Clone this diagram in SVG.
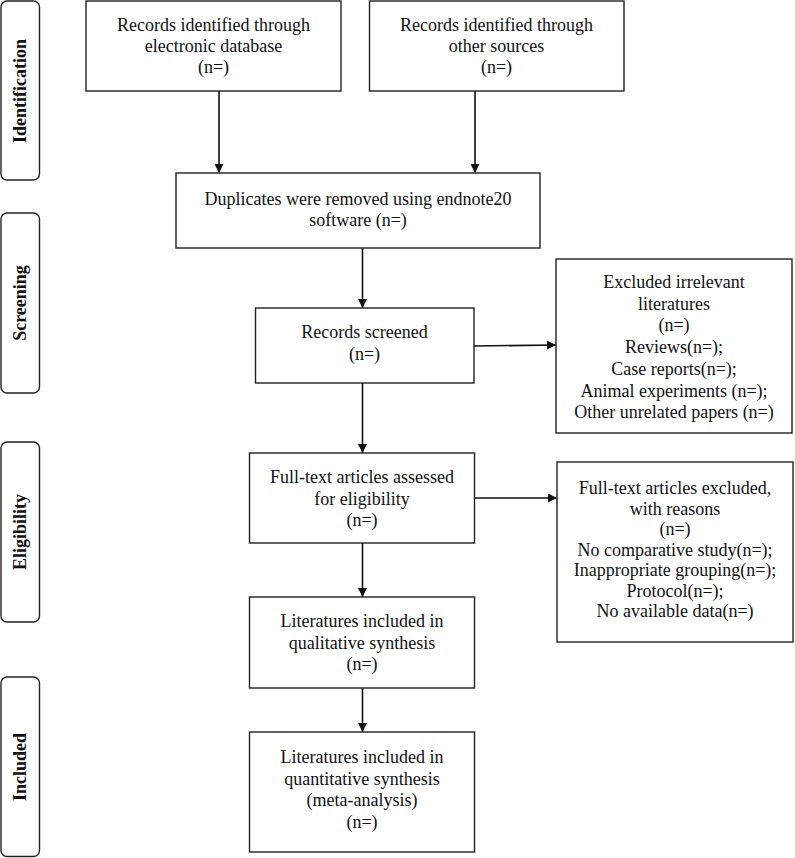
<svg xmlns="http://www.w3.org/2000/svg" width="795" height="858" viewBox="0 0 795 858">
<defs>
<style>
.box{fill:#fff;stroke:#222;stroke-width:1.4}
.side{fill:#fff;stroke:#222;stroke-width:1.4}
.t{font-family:'Liberation Serif','DejaVu Serif',serif;font-size:18px;fill:#111;text-anchor:middle}
.s{font-family:'Liberation Serif','DejaVu Serif',serif;font-size:18px;font-weight:bold;fill:#111;text-anchor:middle}
.c{stroke:#111;stroke-width:1.6;fill:none;marker-end:url(#ah)}
</style>
<marker id="ah" viewBox="0 0 10 10" refX="10" refY="5" markerWidth="9" markerHeight="9" markerUnits="userSpaceOnUse" orient="auto">
<path d="M0,0 L10,5 L0,10 z" fill="#111"/>
</marker>
</defs>
<rect width="795" height="858" fill="#fff"/>

<g id="stage-identification">
<rect class="side" x="1" y="1" width="38.5" height="179" rx="6"/>
<text class="s" transform="translate(26,91) rotate(-90)">Identification</text>
</g>
<g id="stage-screening">
<rect class="side" x="1" y="213" width="38.5" height="180" rx="6"/>
<text class="s" transform="translate(26,303) rotate(-90)">Screening</text>
</g>
<g id="stage-eligibility">
<rect class="side" x="1" y="442" width="38.5" height="180" rx="6"/>
<text class="s" transform="translate(26,532) rotate(-90)">Eligibility</text>
</g>
<g id="stage-included">
<rect class="side" x="1" y="677" width="38.5" height="179.5" rx="6"/>
<text class="s" transform="translate(26,767) rotate(-90)">Included</text>
</g>

<g id="connectors">
<line class="c" x1="219" y1="91" x2="219" y2="173"/>
<line class="c" x1="475" y1="91" x2="475" y2="173"/>
<line class="c" x1="362.5" y1="248" x2="362.5" y2="308"/>
<line class="c" x1="362.5" y1="383" x2="362.5" y2="453"/>
<line class="c" x1="474" y1="346" x2="556" y2="345"/>
<line class="c" x1="362.5" y1="543" x2="362.5" y2="597"/>
<line class="c" x1="475" y1="498" x2="557" y2="498"/>
<line class="c" x1="362.5" y1="688" x2="362.5" y2="732"/>
</g>

<g id="n-database">
<rect class="box" x="86" y="1" width="255" height="90"/>
<text class="t" x="213.5" y="31">Records identified through</text>
<text class="t" x="213.5" y="52">electronic database</text>
<text class="t" x="213.5" y="73">(n=)</text>
</g>
<g id="n-other">
<rect class="box" x="369.5" y="1" width="254.5" height="90"/>
<text class="t" x="496.5" y="31">Records identified through</text>
<text class="t" x="496.5" y="52">other sources</text>
<text class="t" x="496.5" y="73">(n=)</text>
</g>
<g id="n-duplicates">
<rect class="box" x="176" y="173" width="364" height="75"/>
<text class="t" x="358" y="205">Duplicates were removed using endnote20</text>
<text class="t" x="358" y="226">software (n=)</text>
</g>
<g id="n-screened">
<rect class="box" x="255.5" y="308" width="218.5" height="75"/>
<text class="t" x="364.5" y="338">Records screened</text>
<text class="t" x="364.5" y="360">(n=)</text>
</g>
<g id="n-excluded-irrelevant">
<rect class="box" x="556" y="259" width="236" height="174"/>
<text class="t" x="674" y="288">Excluded irrelevant</text>
<text class="t" x="674" y="309.7">literatures</text>
<text class="t" x="674" y="331.4">(n=)</text>
<text class="t" x="674" y="353.1">Reviews(n=);</text>
<text class="t" x="674" y="374.8">Case reports(n=);</text>
<text class="t" x="674" y="396.5">Animal experiments (n=);</text>
<text class="t" x="674" y="418.2">Other unrelated papers (n=)</text>
</g>
<g id="n-fulltext">
<rect class="box" x="249.5" y="453" width="225" height="90"/>
<text class="t" x="362" y="483">Full-text articles assessed</text>
<text class="t" x="362" y="504.5">for eligibility</text>
<text class="t" x="362" y="526">(n=)</text>
</g>
<g id="n-fulltext-excluded">
<rect class="box" x="557" y="462" width="236" height="180"/>
<text class="t" x="675" y="494">Full-text articles excluded,</text>
<text class="t" x="675" y="514.5">with reasons</text>
<text class="t" x="675" y="535">(n=)</text>
<text class="t" x="675" y="555.5">No comparative study(n=);</text>
<text class="t" x="675" y="576">Inappropriate grouping(n=);</text>
<text class="t" x="675" y="596.5">Protocol(n=);</text>
<text class="t" x="675" y="617">No available data(n=)</text>
</g>
<g id="n-qualitative">
<rect class="box" x="249.5" y="597" width="225" height="91"/>
<text class="t" x="362" y="627">Literatures included in</text>
<text class="t" x="362" y="648.5">qualitative synthesis</text>
<text class="t" x="362" y="670">(n=)</text>
</g>
<g id="n-quantitative">
<rect class="box" x="249.5" y="732" width="225" height="120"/>
<text class="t" x="362" y="763">Literatures included in</text>
<text class="t" x="362" y="784.5">quantitative synthesis</text>
<text class="t" x="362" y="806">(meta-analysis)</text>
<text class="t" x="362" y="827.5">(n=)</text>
</g>
</svg>
